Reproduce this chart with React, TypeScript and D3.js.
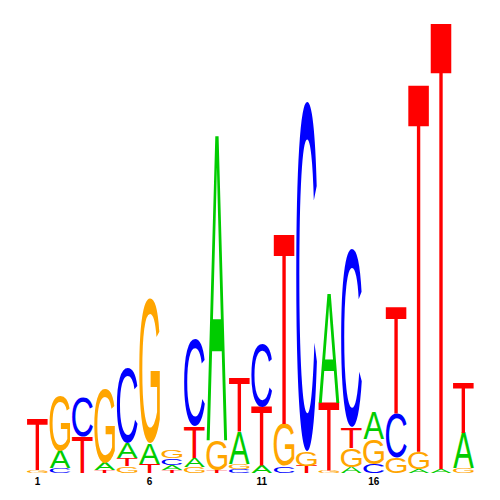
import React from "react";
import * as d3 from "d3";

// sequence logo, 20 positions, heights in bits
const positions = d3.range(1, 21);
const tickLabels = [1, 6, 11, 16];
const bases = ["A", "C", "G", "T"];

const aBits = [0, 0.076, 0, 0.031, 0.067, 0.093, 0.022, 0.04, 1.351, 0.142, 0.036, 0, 0, 0.48, 0.027, 0.116, 0, 0.018, 0.018, 0.156];
const cBits = [0, 0.022, 0.178, 0, 0.333, 0, 0.031, 0.387, 0, 0.018, 0.284, 0.031, 1.56, 0, 0.791, 0.04, 0.2, 0, 0, 0];
const gBits = [0.013, 0.244, 0, 0.329, 0.031, 0.645, 0.036, 0.027, 0.133, 0.022, 0, 0.187, 0.062, 0.013, 0.084, 0.111, 0.067, 0.076, 0, 0.022];
const tBits = [0.227, 0, 0.16, 0.013, 0.036, 0.04, 0.013, 0.138, 0.013, 0.236, 0.258, 0.84, 0.031, 0.298, 0.089, 0, 0.471, 1.627, 1.978, 0.222];

const colors: Record<string, string> = { A: "#00cc00", C: "#0000ff", G: "#ffa500", T: "#ff0000" };

// glyph boxes (em units) for Liberation Sans
const glyphBox: Record<string, number[]> = {
	A: [-0.0015, 0.668, 0, 0.688],
	C: [0.05, 0.683, -0.012, 0.7],
	G: [0.053, 0.711, -0.012, 0.7],
	T: [0.023, 0.591, 0, 0.688],
};

const F = 100;

const App = () => {
	const x = d3.scaleBand<number>()
		.domain(positions)
		.range([26.3, 474.7])
		.paddingInner(0.08)
		.paddingOuter(0.04);
	const y = d3.scaleLinear().domain([0, 2]).range([473, 23]);

	const table: Record<string, number[]> = { A: aBits, C: cBits, G: gBits, T: tBits };

	const letters: any[] = [];
	positions.forEach((p, i) => {
		const stack = bases
			.map(b => ({ b, v: table[b][i] }))
			.filter(d => d.v > 0)
			.sort((a, b) => a.v - b.v);
		let acc = 0;
		stack.forEach(d => {
			const yBottom = y(acc);
			const yTop = y(acc + d.v);
			acc += d.v;
			const h = yBottom - yTop;
			if (h < 0.3) return;
			const [x0, x1, y0, y1] = glyphBox[d.b];
			const w = x.bandwidth();
			const sx = w / ((x1 - x0) * F);
			const sy = h / ((y1 - y0) * F);
			const tx = (x(p) as number) - sx * x0 * F;
			const ty = yBottom + sy * y0 * F;
			letters.push({ key: `${p}-${d.b}`, b: d.b, tx, ty, sx, sy });
		});
	});

	return (
		<svg width={500} height={500} style={{ position: "absolute", left: 0, top: 0 }}>
			<rect width={500} height={500} fill="white" />
			{letters.map(l => (
				<text
					key={l.key}
					transform={`translate(${l.tx},${l.ty}) scale(${l.sx},${l.sy})`}
					fontFamily="Liberation Sans, Arial, sans-serif"
					fontSize={F}
					fill={colors[l.b]}
				>
					{l.b}
				</text>
			))}
			{tickLabels.map(t => (
				<text
					key={t}
					x={(x(t) as number) + x.bandwidth() / 2}
					y={485}
					textAnchor="middle"
					fontFamily="Liberation Sans, Arial, sans-serif"
					fontWeight="bold"
					fontSize={10}
				>
					{t}
				</text>
			))}
		</svg>
	);
};

export default App;
